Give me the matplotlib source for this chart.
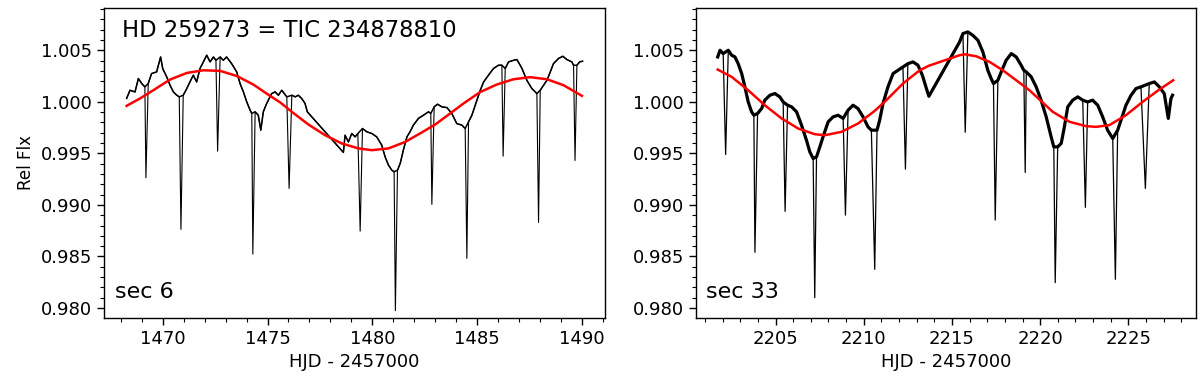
import numpy as np
import matplotlib
matplotlib.use("Agg")
import matplotlib.pyplot as plt
from matplotlib.ticker import MultipleLocator

# ---------------- Sector 6 ----------------
s6_time = [1468.28, 1468.44, 1468.68, 1468.84, 1469.00, 1469.15, 1469.31, 1469.47, 1469.71, 1469.90,
           1470.00, 1470.19, 1470.35, 1470.51, 1470.67, 1470.79, 1470.98, 1471.15, 1471.30, 1471.46,
           1471.62, 1471.78, 1471.94, 1472.10, 1472.26, 1472.42, 1472.54, 1472.74, 1472.89, 1473.05,
           1473.29, 1473.53, 1473.69, 1473.85, 1474.01, 1474.17, 1474.25, 1474.41, 1474.56, 1474.68,
           1474.80, 1474.96, 1475.20, 1475.36, 1475.52, 1475.68, 1475.92, 1476.16, 1476.32, 1476.47,
           1476.63, 1476.79, 1476.90, 1478.62, 1478.70, 1478.86, 1479.02, 1479.18, 1479.31, 1479.53,
           1479.74, 1479.98, 1480.21, 1480.45, 1480.61, 1480.77, 1480.93, 1481.04, 1481.20, 1481.33,
           1481.48, 1481.65, 1481.80, 1481.96, 1482.20, 1482.44, 1482.68, 1482.79, 1482.95, 1483.11,
           1483.32, 1483.56, 1483.79, 1484.03, 1484.27, 1484.43, 1484.59, 1484.75, 1484.99, 1485.15,
           1485.31, 1485.54, 1485.78, 1486.02, 1486.18, 1486.34, 1486.50, 1486.74, 1486.90, 1487.14,
           1487.37, 1487.61, 1487.85, 1488.01, 1488.17, 1488.33, 1488.49, 1488.64, 1488.88, 1489.09,
           1489.28, 1489.52, 1489.60, 1489.76, 1489.89, 1490.03]
s6_flux = [1.00033, 1.00112, 1.00096, 1.00226, 1.00177, 1.00145, 1.00177, 1.00274, 1.00290, 1.00435,
           1.00323, 1.00242, 1.00161, 1.00096, 1.00064, 1.00048, 1.00064, 1.00129, 1.00193, 1.00258,
           1.00193, 1.00323, 1.00387, 1.00452, 1.00387, 1.00435, 1.00403, 1.00435, 1.00403, 1.00435,
           1.00370, 1.00290, 1.00177, 1.00096, 0.99999, 0.99919, 0.99887, 0.99903, 0.99870, 0.99725,
           0.99903, 0.99984, 1.00080, 1.00096, 1.00064, 1.00112, 1.00048, 1.00064, 1.00048, 1.00064,
           1.00032, 0.99984, 0.99903, 0.99509, 0.99676, 0.99611, 0.99692, 0.99660, 0.99692, 0.99741,
           0.99709, 0.99692, 0.99660, 0.99580, 0.99466, 0.99386, 0.99337, 0.99321, 0.99337, 0.99402,
           0.99531, 0.99660, 0.99709, 0.99774, 0.99839, 0.99870, 0.99903, 0.99887, 0.99951, 0.99977,
           0.99951, 0.99944, 0.99887, 0.99789, 0.99774, 0.99741, 0.99806, 0.99870, 1.00016, 1.00112,
           1.00193, 1.00258, 1.00323, 1.00355, 1.00355, 1.00323, 1.00387, 1.00403, 1.00410, 1.00323,
           1.00209, 1.00129, 1.00080, 1.00112, 1.00161, 1.00209, 1.00290, 1.00370, 1.00420, 1.00442,
           1.00410, 1.00387, 1.00355, 1.00355, 1.00387, 1.00394]
s6_ecl_time = [1469.20, 1470.87, 1472.62, 1474.30, 1476.03, 1479.42, 1481.10, 1482.84, 1484.51,
               1486.24, 1487.93, 1489.67]
s6_ecl_flux = [0.99263, 0.98763, 0.99521, 0.98523, 0.99160, 0.98746, 0.97974, 0.99005, 0.98482,
               0.99473, 0.98830, 0.99431]
s6_fit_time = [1468.28, 1468.92, 1469.55, 1470.35, 1471.15, 1471.94, 1472.74, 1473.53, 1474.32,
               1475.12, 1475.60, 1476.16, 1476.95, 1477.75, 1478.54, 1479.34, 1479.98, 1480.77,
               1481.57, 1482.36, 1483.00, 1483.56, 1484.35, 1485.15, 1485.94, 1486.74, 1487.53,
               1488.33, 1489.12, 1490.00]
s6_fit_flux = [0.99961, 1.00033, 1.00112, 1.00216, 1.00280, 1.00306, 1.00300, 1.00251, 1.00168,
               1.00058, 0.99995, 0.99903, 0.99780, 0.99676, 0.99596, 0.99548, 0.99531, 0.99548,
               0.99611, 0.99703, 0.99780, 0.99864, 0.99984, 1.00095, 1.00168, 1.00219, 1.00239,
               1.00219, 1.00161, 1.00058]

# ---------------- Sector 33 ----------------
s33_time = [2201.72, 2201.85, 2202.03, 2202.32, 2202.51, 2202.70, 2202.88, 2203.08, 2203.26, 2203.45,
            2203.64, 2203.77, 2203.98, 2204.21, 2204.39, 2204.68, 2204.96, 2205.24, 2205.43, 2205.68,
            2205.91, 2206.19, 2206.47, 2206.75, 2206.94, 2207.13, 2207.32, 2207.51, 2207.69, 2207.98,
            2208.26, 2208.54, 2208.83, 2209.11, 2209.39, 2209.67, 2209.96, 2210.24, 2210.43, 2210.75,
            2210.90, 2211.09, 2211.37, 2211.66, 2211.94, 2212.22, 2212.50, 2212.79, 2213.07, 2213.32,
            2213.55, 2213.69, 2215.43, 2215.62, 2215.90, 2216.18, 2216.47, 2216.75, 2217.03, 2217.22,
            2217.35, 2217.60, 2217.79, 2218.07, 2218.36, 2218.64, 2218.92, 2219.07, 2219.21, 2219.49,
            2219.77, 2220.05, 2220.34, 2220.62, 2220.77, 2220.99, 2221.19, 2221.37, 2221.56, 2221.84,
            2222.13, 2222.41, 2222.69, 2222.97, 2223.26, 2223.54, 2223.82, 2224.11, 2224.39, 2224.58,
            2224.86, 2225.15, 2225.43, 2225.71, 2226.18, 2226.47, 2226.75, 2227.03, 2227.26, 2227.41,
            2227.50]
s33_flux = [1.00435, 1.00500, 1.00468, 1.00500, 1.00452, 1.00435, 1.00370, 1.00274, 1.00145, 0.99999,
            0.99903, 0.99870, 0.99887, 0.99935, 1.00016, 1.00064, 1.00080, 1.00048, 0.99999, 0.99967,
            0.99951, 0.99903, 0.99774, 0.99628, 0.99515, 0.99450, 0.99466, 0.99563, 0.99660, 0.99806,
            0.99854, 0.99870, 0.99839, 0.99919, 0.99967, 0.99935, 0.99854, 0.99757, 0.99725, 0.99725,
            0.99822, 0.99984, 1.00145, 1.00274, 1.00306, 1.00338, 1.00370, 1.00387, 1.00355, 1.00258,
            1.00129, 1.00054, 1.00580, 1.00662, 1.00678, 1.00645, 1.00597, 1.00484, 1.00306, 1.00226,
            1.00177, 1.00209, 1.00290, 1.00403, 1.00468, 1.00435, 1.00355, 1.00306, 1.00290, 1.00242,
            1.00145, 1.00016, 0.99854, 0.99660, 0.99563, 0.99563, 0.99596, 0.99757, 0.99951, 1.00016,
            1.00048, 1.00016, 0.99999, 1.00016, 0.99967, 0.99854, 0.99725, 0.99644, 0.99725, 0.99822,
            0.99967, 1.00064, 1.00129, 1.00145, 1.00177, 1.00193, 1.00145, 1.00080, 0.99839, 1.00032,
            1.00064]
s33_ecl_time = [2202.17, 2203.83, 2205.54, 2207.22, 2208.96, 2210.62, 2212.36, 2215.75, 2217.45,
                2219.15, 2220.85, 2222.56, 2224.26, 2225.96]
s33_ecl_flux = [0.99489, 0.98540, 0.98937, 0.98100, 0.98901, 0.98375, 0.99347, 0.99705, 0.98853,
                0.99315, 0.98246, 0.98976, 0.98278, 0.99160]
s33_fit_time = [2201.72, 2202.51, 2203.45, 2204.39, 2205.34, 2206.28, 2207.22, 2207.79, 2208.74,
                2209.67, 2210.62, 2211.28, 2212.22, 2213.17, 2213.69, 2215.43, 2215.71, 2216.37,
                2217.13, 2217.88, 2218.64, 2219.39, 2220.71, 2221.66, 2222.60, 2223.17, 2223.92,
                2224.86, 2225.80, 2226.75, 2227.54]
s33_fit_flux = [1.00313, 1.00242, 1.00112, 0.99967, 0.99839, 0.99741, 0.99686, 0.99676, 0.99709,
                0.99789, 0.99912, 1.00016, 1.00177, 1.00306, 1.00350, 1.00452, 1.00461, 1.00442,
                1.00387, 1.00306, 1.00209, 1.00112, 0.99903, 0.99806, 0.99764, 0.99757, 0.99774,
                0.99870, 0.99999, 1.00119, 1.00209]

title_text = "HD 259273 = TIC 234878810"
sector_labels = ["sec 6", "sec 33"]

plt.rcParams['font.family'] = ['DejaVu Sans']

fig = plt.figure(figsize=(12, 3.81), dpi=100)
ax1 = fig.add_axes([104 / 1200, 1 - 318 / 381, 501 / 1200, 310 / 381])
ax2 = fig.add_axes([696 / 1200, 1 - 318 / 381, 500 / 1200, 310 / 381])


def merged(t, f, te, fe):
    tt = np.concatenate([np.asarray(t), np.asarray(te)])
    ff = np.concatenate([np.asarray(f), np.asarray(fe)])
    order = np.argsort(tt)
    return tt[order], ff[order]


t6, f6 = merged(s6_time, s6_flux, s6_ecl_time, s6_ecl_flux)
t33, f33 = merged(s33_time, s33_flux, s33_ecl_time, s33_ecl_flux)

ax1.plot(s6_time, s6_flux, color='k', lw=1.1, zorder=2)
ax1.plot(t6, f6, color='k', lw=0.8, zorder=2)
ax1.plot(s6_fit_time, s6_fit_flux, color='red', lw=1.8, zorder=3)

ax2.plot(s33_time, s33_flux, color='k', lw=2.3, zorder=2)
ax2.plot(t33, f33, color='k', lw=0.9, zorder=2)
ax2.plot(s33_fit_time, s33_fit_flux, color='red', lw=1.8, zorder=3)

ax1.set_xlim(1467.2, 1491.1)
ax2.set_xlim(2200.49, 2228.83)
for ax in (ax1, ax2):
    ax.set_ylim(0.97903, 1.0091)
    ax.xaxis.set_major_locator(MultipleLocator(5))
    ax.xaxis.set_minor_locator(MultipleLocator(1))
    ax.yaxis.set_major_locator(MultipleLocator(0.005))
    ax.yaxis.set_minor_locator(MultipleLocator(0.001))
    ax.yaxis.set_major_formatter(matplotlib.ticker.FormatStrFormatter('%.3f'))
    ax.tick_params(which='major', length=5, width=1, labelsize=13)
    ax.tick_params(which='minor', length=3, width=0.8)
    ax.set_xlabel("HJD - 2457000", fontsize=13)
    for sp in ax.spines.values():
        sp.set_linewidth(1.0)

ax1.set_ylabel("Rel Flx", fontsize=12)
ax1.text(0.036, 0.907, title_text, transform=ax1.transAxes, fontsize=16.3, va='baseline', ha='left')
ax1.text(0.022, 0.0635, sector_labels[0], transform=ax1.transAxes, fontsize=16, va='baseline', ha='left')
ax2.text(0.02, 0.0655, sector_labels[1], transform=ax2.transAxes, fontsize=16, va='baseline', ha='left')

fig.savefig("out.png", dpi=100)
